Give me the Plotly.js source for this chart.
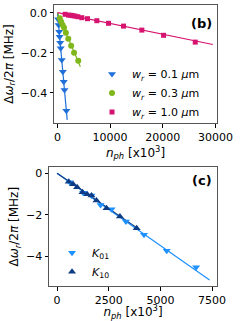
<!DOCTYPE html>
<html><head><meta charset="utf-8">
<script src="https://cdn.plot.ly/plotly-3.0.1.min.js"></script>
<style>html,body{margin:0;padding:0;background:#fff}#c{width:241px;height:321px}</style>
</head><body><div id="c"></div>
<script>
// Panel (b): frequency shift vs photon number for three widths
const w01_x = [115, 215, 330, 415, 520, 615, 820, 1020, 1190, 1335, 1690];
const w01_y = [-0.033, -0.062, -0.095, -0.12, -0.15, -0.178, -0.237, -0.295, -0.345, -0.387, -0.49];
const w01_fit_x = [0, 1850];
const w01_fit_y = [0, -0.536];

const w03_x = [450, 700, 980, 1250, 1600, 2050, 2600, 3150, 3950];
const w03_y = [-0.028, -0.045, -0.062, -0.075, -0.1, -0.13, -0.165, -0.2, -0.24];
const w03_fit_x = [0, 4350];
const w03_fit_y = [0, -0.27];

const w10_x = [1460, 2090, 2535, 2915, 3360, 3865, 4625, 5700, 7480, 9700, 12550, 16030, 20150, 26170];
const w10_y = [-0.008, -0.012, -0.013, -0.015, -0.017, -0.02, -0.025, -0.03, -0.04, -0.053, -0.067, -0.087, -0.113, -0.147];
const w10_fit_x = [0, 29500];
const w10_fit_y = [0, -0.159];

// Panel (c): K01 and K10
const k01_x = [615, 1262, 1667, 2104, 2638, 3333, 4207, 5307, 6731];
const k01_y = [-0.43, -0.93, -1.07, -1.52, -1.73, -2.32, -2.96, -3.72, -4.52];
const k10_x = [566, 777, 971, 1230, 1456, 1667, 1909, 2395, 3042, 3851];
const k10_y = [-0.40, -0.53, -0.67, -0.91, -1.01, -1.07, -1.31, -1.68, -2.08, -2.64];
const k01_fit_x = [0, 7380];
const k01_fit_y = [0, -5.13];
const k10_fit_x = [0, 4013];
const k10_fit_y = [0, -2.72];

const names_b = ['<i>w</i><sub><i>r</i></sub> = 0.1 <i>μ</i>m', '<i>w</i><sub><i>r</i></sub> = 0.3 <i>μ</i>m', '<i>w</i><sub><i>r</i></sub> = 1.0 <i>μ</i>m'];
const names_c = ['<i>K</i><sub>01</sub>', '<i>K</i><sub>10</sub>'];

const cBlue = '#1f6fd8', cGreen = '#80b81c', cMag = '#d6136f', cLight = '#1e90ff', cDark = '#0d3c85';

function line(x, y, col, xa, ya) {
  return {x: x, y: y, mode: 'lines', line: {color: col, width: 1.2}, xaxis: xa, yaxis: ya, showlegend: false, hoverinfo: 'skip'};
}
function pts(x, y, col, sym, sz, name, xa, ya, leg) {
  return {x: x, y: y, mode: 'markers', name: name, marker: {color: col, symbol: sym, size: sz}, xaxis: xa, yaxis: ya, legend: leg};
}

const data = [
  line(w01_fit_x, w01_fit_y, cBlue, 'x', 'y'),
  line(w03_fit_x, w03_fit_y, cGreen, 'x', 'y'),
  line(w10_fit_x, w10_fit_y, cMag, 'x', 'y'),
  pts(w01_x, w01_y, cBlue, 'triangle-down', 7, names_b[0], 'x', 'y', 'legend'),
  pts(w03_x, w03_y, cGreen, 'circle', 6, names_b[1], 'x', 'y', 'legend'),
  pts(w10_x, w10_y, cMag, 'square', 5, names_b[2], 'x', 'y', 'legend'),
  line(k01_fit_x, k01_fit_y, cLight, 'x2', 'y2'),
  line(k10_fit_x, k10_fit_y, cDark, 'x2', 'y2'),
  pts(k01_x, k01_y, cLight, 'triangle-down', 7, names_c[0], 'x2', 'y2', 'legend2'),
  pts(k10_x, k10_y, cDark, 'triangle-up', 7, names_c[1], 'x2', 'y2', 'legend2')
];

const axFont = {family: 'DejaVu Sans', size: 11, color: '#000'};
const common = {showline: true, mirror: true, linecolor: '#555', linewidth: 1, ticks: 'outside', ticklen: 3.5, tickcolor: '#000', showgrid: false, zeroline: false, tickfont: axFont};

const layout = {
  width: 241, height: 321,
  margin: {l: 49, r: 24, t: 5, b: 35},
  paper_bgcolor: '#fff', plot_bgcolor: '#fff',
  font: {family: 'DejaVu Sans', size: 11, color: '#000'},
  xaxis: Object.assign({}, common, {domain: [0.03, 1], range: [-650, 30300], tickvals: [0, 10000, 20000, 30000], ticktext: ['0', '10000', '20000', '30000'], anchor: 'y',
    title: {text: '<i>n</i><sub><i>ph</i></sub> [x10<sup>3</sup>]', font: {size: 12}, standoff: 2}}),
  yaxis: Object.assign({}, common, {domain: [0.58, 1], range: [-0.5515, 0.0385], tickvals: [0, -0.2, -0.4], ticktext: ['0.0', '−0.2', '−0.4'], anchor: 'x',
    title: {text: 'Δ<i>ω</i><sub><i>r</i></sub>/2<i>π</i> [MHz]', font: {size: 12}, standoff: 4}}),
  xaxis2: Object.assign({}, common, {domain: [0, 1], range: [-390, 7740], tickvals: [0, 2500, 5000, 7500], ticktext: ['0', '2500', '5000', '7500'], anchor: 'y2',
    title: {text: '<i>n</i><sub><i>ph</i></sub> [x10<sup>3</sup>]', font: {size: 12}, standoff: 2}}),
  yaxis2: Object.assign({}, common, {domain: [0, 0.4224], range: [-5.42, 0.29], tickvals: [0, -2, -4], ticktext: ['0', '−2', '−4'], anchor: 'x2',
    title: {text: 'Δ<i>ω</i><sub><i>r</i></sub>/2<i>π</i> [MHz]', font: {size: 12}, standoff: 4}}),
  legend: {x: 0.256, y: 0.806, xanchor: 'left', yanchor: 'top', bgcolor: 'rgba(0,0,0,0)', font: {size: 11}, tracegroupgap: 0, itemwidth: 30},
  legend2: {x: 0.018, y: 0.17, xanchor: 'left', yanchor: 'top', bgcolor: 'rgba(0,0,0,0)', font: {size: 11}, itemwidth: 30},
  annotations: [
    {text: '<b>(b)</b>', xref: 'paper', yref: 'paper', x: 0.985, y: 0.935, xanchor: 'right', yanchor: 'middle', showarrow: false, font: {size: 13}},
    {text: '<b>(c)</b>', xref: 'paper', yref: 'paper', x: 0.985, y: 0.375, xanchor: 'right', yanchor: 'middle', showarrow: false, font: {size: 13}}
  ],
  showlegend: true
};

Plotly.newPlot('c', data, layout, {staticPlot: true, displayModeBar: false});
</script></body></html>
